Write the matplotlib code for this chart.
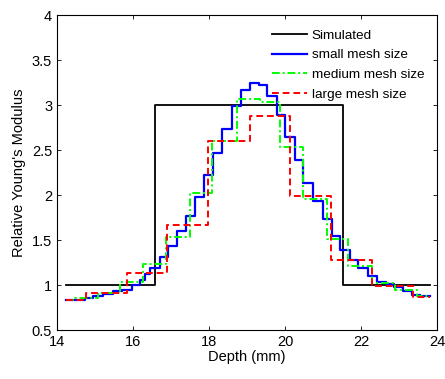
import matplotlib
matplotlib.use("Agg")
import matplotlib.pyplot as plt
import numpy as np

plt.rcParams['font.family'] = ['Liberation Sans', 'DejaVu Sans']

# Simulated profile
sim_edges = [14.25, 16.57, 21.53, 23.82]
sim_vals = [1.0, 3.0, 1.0]

# Small mesh size
small_edges = [14.25, 14.74, 14.96, 15.22, 15.48, 15.70, 15.97, 16.18, 16.32, 16.45,
               16.71, 16.93, 17.15, 17.39, 17.63, 17.88, 18.11, 18.35, 18.60, 18.84,
               19.07, 19.32, 19.53, 19.78, 20.00, 20.26, 20.48, 20.73, 20.99, 21.23,
               21.45, 21.71, 21.92, 22.19, 22.41, 22.65, 22.88, 23.10, 23.33, 23.55, 23.82]
small_vals = [0.835, 0.853, 0.876, 0.90, 0.93, 0.95, 1.005, 1.06, 1.12, 1.19,
              1.31, 1.43, 1.60, 1.77, 1.98, 2.22, 2.47, 2.73, 2.99, 3.17,
              3.25, 3.22, 3.10, 2.89, 2.65, 2.39, 2.14, 1.93, 1.73, 1.55,
              1.39, 1.28, 1.19, 1.10, 1.04, 1.015, 0.98, 0.93, 0.895, 0.876]

# Medium mesh size
medium_edges = [14.25, 14.47, 15.07, 15.67, 16.27, 16.88, 17.50, 18.07, 18.73, 19.34,
                19.87, 20.48, 21.10, 21.67, 22.28, 22.90, 23.47, 23.82]
medium_vals = [0.83, 0.86, 0.91, 1.03, 1.23, 1.54, 2.02, 2.60, 3.07, 3.04,
               2.54, 1.96, 1.51, 1.21, 1.025, 0.95, 0.88]

# Large mesh size
large_edges = [14.25, 14.76, 15.83, 16.90, 17.97, 19.07, 20.13, 21.20, 22.30, 23.36, 23.82]
large_vals = [0.835, 0.91, 1.135, 1.67, 2.60, 2.875, 1.99, 1.28, 0.99, 0.87]

labels = ['Simulated', 'small mesh size', 'medium mesh size', 'large mesh size']
xticks = [14, 16, 18, 20, 22, 24]
yticks = [0.5, 1, 1.5, 2, 2.5, 3, 3.5, 4]
ytick_labels = ['0.5', '1', '1.5', '2', '2.5', '3', '3.5', '4']


def step_xy(edges, vals):
    return np.asarray(edges), np.append(vals, vals[-1])


fig = plt.figure(figsize=(4.45, 3.79), dpi=100)
ax = fig.add_axes([0.128, 0.129, 0.854, 0.831])

x, y = step_xy(sim_edges, sim_vals)
ax.step(x, y, where='post', color='black', lw=1.3, label=labels[0])
x, y = step_xy(small_edges, small_vals)
ax.step(x, y, where='post', color='#0000FF', lw=1.6, label=labels[1])
x, y = step_xy(medium_edges, medium_vals)
ax.step(x, y, where='post', color='#00FF00', lw=1.4, ls=(0, (4, 1.5, 1, 1.5)), label=labels[2])
x, y = step_xy(large_edges, large_vals)
ax.step(x, y, where='post', color='#FF0000', lw=1.4, ls=(0, (3.5, 2)), label=labels[3])

ax.set_xlim(14, 24)
ax.set_ylim(0.5, 4)
ax.set_xticks(xticks)
ax.set_yticks(yticks)
ax.set_yticklabels(ytick_labels)
ax.tick_params(direction='in', top=True, right=True, length=3, labelsize=10.5, width=0.6)
for s in ax.spines.values():
    s.set_linewidth(0.8)
ax.set_xlabel('Depth (mm)', fontsize=10.5, labelpad=1)
ax.set_ylabel("Relative Young's Modulus", fontsize=10.5, labelpad=4)

ax.legend(loc='upper right', frameon=False, fontsize=9.7, handlelength=2.6,
          handletextpad=0.35, labelspacing=0.55, borderaxespad=0.4,
          bbox_to_anchor=(0.995, 0.99))

fig.savefig('out.png', dpi=100)
